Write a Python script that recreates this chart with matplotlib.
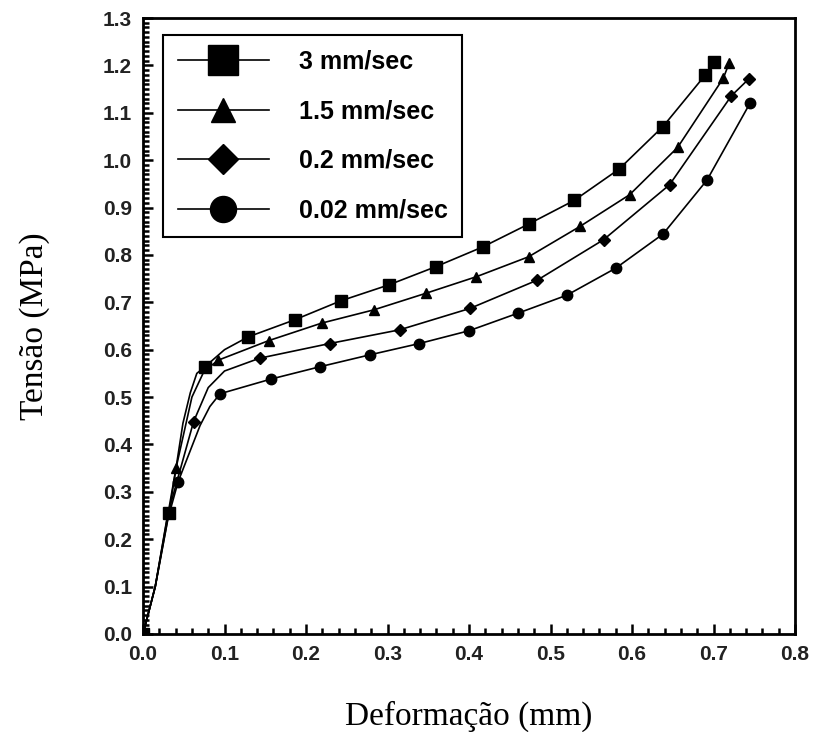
import numpy as np
import matplotlib.pyplot as plt
from matplotlib.ticker import MultipleLocator, FormatStrFormatter

# Stress-deformation curves for four loading rates
# each curve: vertices of the line, and which vertices carry a marker
x_3 = [0.0, 0.015, 0.032, 0.049, 0.058, 0.066, 0.076, 0.1, 0.129, 0.186, 0.2425, 0.302,
       0.359, 0.417, 0.473, 0.529, 0.584, 0.638, 0.690, 0.700]
y_3 = [0.0, 0.1, 0.256, 0.445, 0.509, 0.55, 0.564, 0.6, 0.627, 0.663, 0.703, 0.737,
       0.775, 0.817, 0.865, 0.915, 0.981, 1.071, 1.180, 1.208]
mk_3 = [0, 2, 6, 8, 9, 10, 11, 12, 13, 14, 15, 16, 17, 18, 19]

x_15 = [0.0, 0.015, 0.0405, 0.06, 0.075, 0.0925, 0.154, 0.219, 0.283, 0.347, 0.409,
        0.473, 0.536, 0.597, 0.656, 0.712, 0.719]
y_15 = [0.0, 0.1, 0.35, 0.5, 0.555, 0.578, 0.619, 0.656, 0.684, 0.719, 0.754,
        0.796, 0.860, 0.927, 1.027, 1.173, 1.204]
mk_15 = [2, 5, 6, 7, 8, 9, 10, 11, 12, 13, 14, 15, 16]

x_02 = [0.0, 0.015, 0.03, 0.062, 0.08, 0.1, 0.143, 0.229, 0.315, 0.401, 0.484,
        0.565, 0.646, 0.722, 0.743]
y_02 = [0.0, 0.1, 0.25, 0.448, 0.52, 0.555, 0.582, 0.613, 0.642, 0.687, 0.747,
        0.832, 0.948, 1.136, 1.171]
mk_02 = [3, 6, 7, 8, 9, 10, 11, 12, 13, 14]

x_002 = [0.0, 0.015, 0.03, 0.043, 0.07, 0.082, 0.0945, 0.157, 0.217, 0.278, 0.339,
         0.400, 0.460, 0.520, 0.580, 0.638, 0.692, 0.745]
y_002 = [0.0, 0.1, 0.24, 0.321, 0.44, 0.48, 0.507, 0.538, 0.564, 0.589, 0.613,
         0.640, 0.677, 0.715, 0.772, 0.844, 0.958, 1.121]
mk_002 = [3, 6, 7, 8, 9, 10, 11, 12, 13, 14, 15, 16, 17]

labels = ['3 mm/sec', '1.5 mm/sec', '0.2 mm/sec', '0.02 mm/sec']

fig = plt.figure(figsize=(8.14, 7.32), dpi=100)
ax = fig.add_axes([0.1757, 0.1339, 0.801, 0.8415])

series = [
    (x_3, y_3, mk_3, 's', 8.5),
    (x_15, y_15, mk_15, '^', 7),
    (x_02, y_02, mk_02, 'D', 6),
    (x_002, y_002, mk_002, 'o', 7.5),
]
for (xs, ys, mk, m, ms), lab in zip(series, labels):
    ax.plot(xs, ys, color='black', lw=1.2, marker=m, ms=ms, markevery=mk,
            mfc='black', mec='black', label=lab)

ax.set_xlim(0, 0.8)
ax.set_ylim(0, 1.3)
ax.xaxis.set_major_locator(MultipleLocator(0.1))
ax.xaxis.set_minor_locator(MultipleLocator(0.02))
ax.yaxis.set_major_locator(MultipleLocator(0.1))
ax.yaxis.set_minor_locator(MultipleLocator(0.01))
ax.xaxis.set_major_formatter(FormatStrFormatter('%.1f'))
ax.yaxis.set_major_formatter(FormatStrFormatter('%.1f'))

ax.tick_params(which='both', direction='in', top=False, right=False, width=1.8)
ax.tick_params(which='major', length=7, labelsize=15, pad=8)
ax.tick_params(which='minor', length=4)
for lbl in ax.get_xticklabels() + ax.get_yticklabels():
    lbl.set_fontfamily('Liberation Sans')
    lbl.set_fontweight('bold')
    lbl.set_color('#222222')
for sp in ax.spines.values():
    sp.set_linewidth(2)

ax.set_xlabel('Deformação (mm)', fontfamily='Liberation Serif', fontsize=24, labelpad=26)
ax.set_ylabel('Tensão (MPa)', fontfamily='Liberation Serif', fontsize=24, labelpad=38)

leg = ax.legend(loc='upper left', bbox_to_anchor=(0.0307, 0.972), borderaxespad=0,
                frameon=True, fancybox=False, numpoints=1,
                edgecolor='black', markerscale=2.5, handlelength=3.64, labelspacing=1.02,
                borderpad=0.58, handletextpad=1.2,
                prop={'family': 'Liberation Sans', 'weight': 'bold', 'size': 18})
leg.get_frame().set_linewidth(1.5)
leg.get_frame().set_alpha(1)
# one marker centred on each legend line
for h in leg.legend_handles:
    h.set_markevery([1])

fig.savefig('out.png', dpi=100)
